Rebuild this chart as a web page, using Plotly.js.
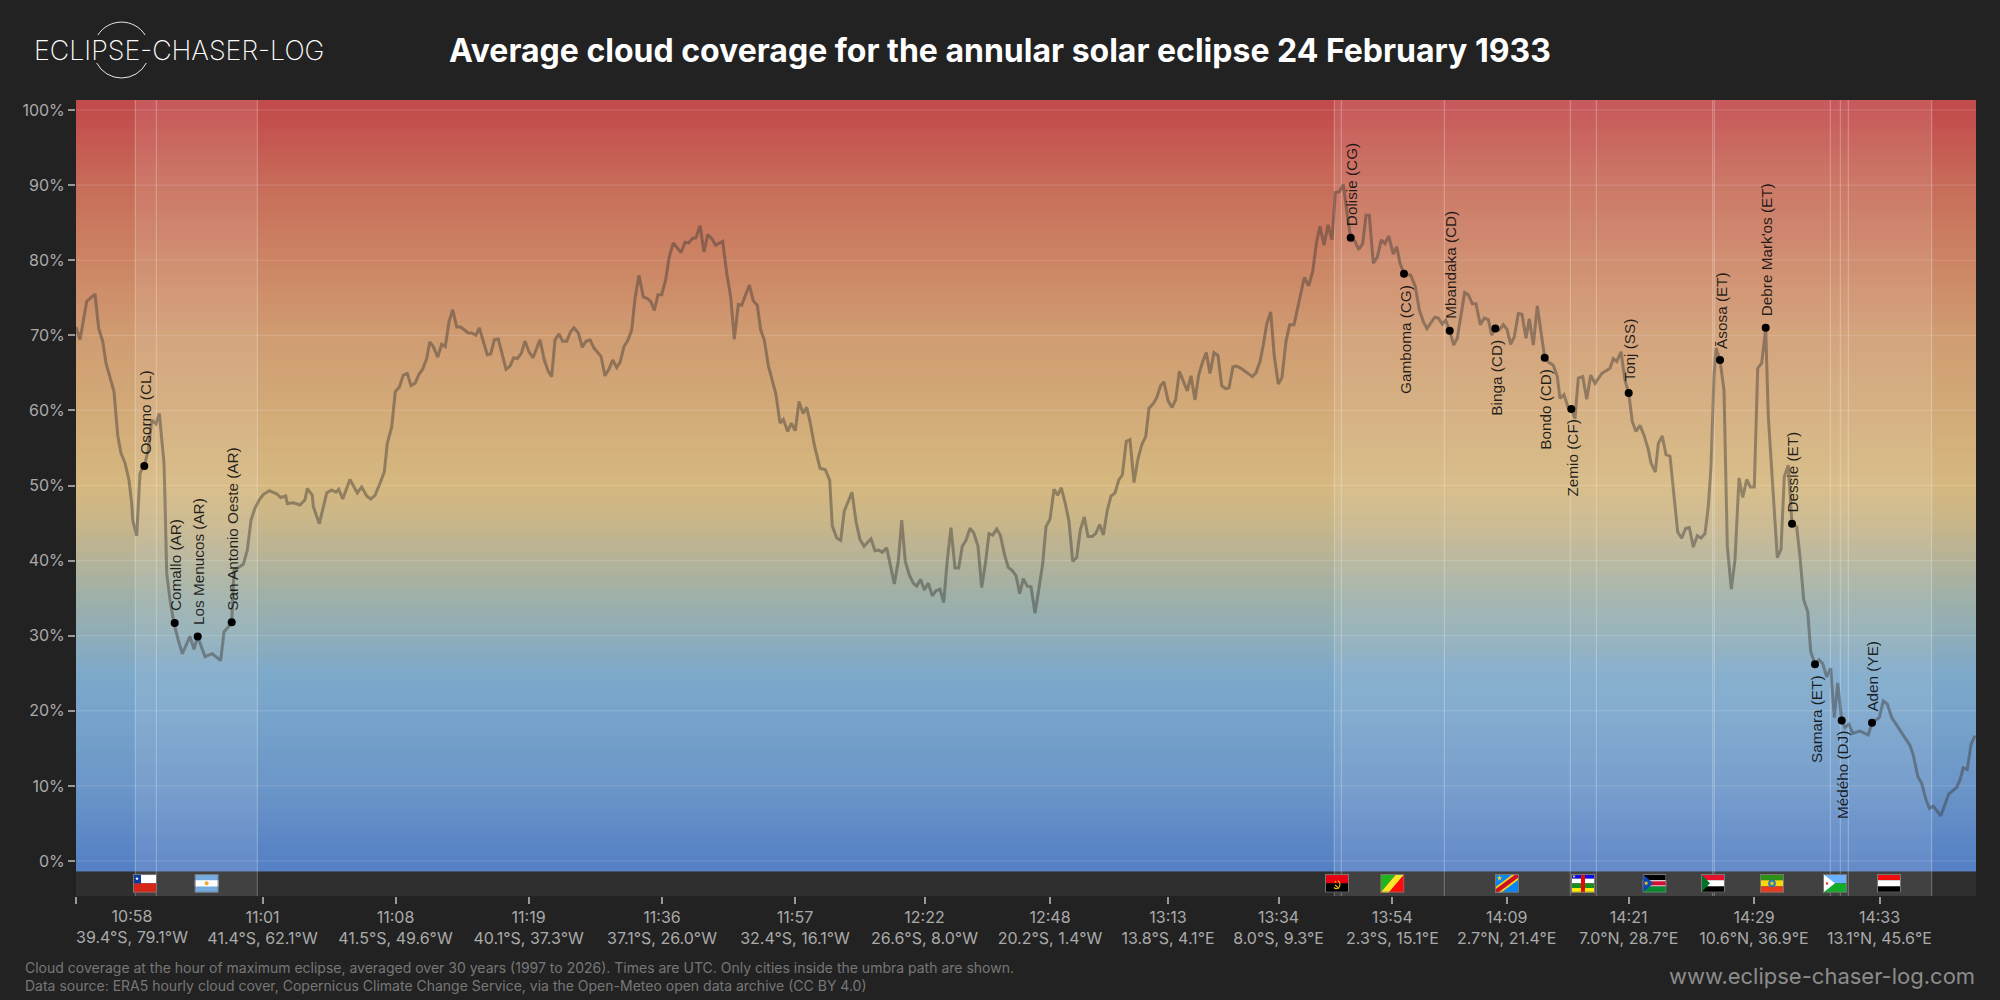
<!DOCTYPE html>
<html><head><meta charset="utf-8">
<script src="https://cdn.plot.ly/plotly-3.0.1.min.js"></script>
<style>html,body{margin:0;padding:0;background:#222}#c{width:2000px;height:1000px}</style>
</head><body><div id="c"></div>
<script>
// ---------- data ----------
const pathPos = [0,4,10.7,19,22.7,26.7,30,38,41.7,45,49,53,55.7,56.7,60.7,62.3,64,69,72.3,75.7,80,83.3,86.3,88,89,90.7,94,98,102.3,106.3,114,118,121.7,129,136.3,144.7,148,155.7,158,167.3,171.3,175,179,183.3,187.3,193.3,200.7,204.7,209.7,211.3,217.3,224,229,231.3,236.3,237.3,243.3,249,250.7,255.7,260,262.7,266.7,274,281.3,285.7,290.7,294.7,299,304,308.3,311.3,315.7,319.3,323.3,327.3,331.3,335,339,343,346.7,350.7,353.7,357.3,361.7,365.7,369.3,373,376.7,380.7,384.7,392.3,395.7,400,403.3,411.3,414.7,418.3,422.3,430,434,437.7,441.3,445.3,449,453,457,464,468.3,472.3,475.7,479,483,486.7,490.7,494.7,498,502.3,506.3,510,514,518,525,529,533,536.7,540.7,544,548,551.7,555.7,559,563,567.3,571.3,574.7,578.3,582,585.7,589.7,593.3,597.3,605,609,612.7,616.3,620,624,628,631.7,635.7,639.7,646.7,650.7,654.7,658.3,662.3,665.7,673.3,677.3,681.3,684.7,688.3,692.3,700,704,707.3,711.7,715.3,719.3,723,727,730.7,734.3,738.3,744,749.3,753.7,756.3,760.7,764.7,768.3,776,780,784,788,795,799,802.7,806.3,810.7,818.3,822.3,825.7,829.3,833.3,837.3,840.7,844.7,848.3,852.3,856.3,860,864,867.7,871.3,875,879,882.7,886.3,890,894,897.7,902,905.7,909.7,913,916.7,920.7,924.3,928.7,932.3,936,940,943.7,947.3,951.3,955,959,962.7,966.7,970,974,978,981.7,985.3,989.3,993,996.7,1000.7,1004.3,1008.3,1012,1016,1019.7,1023.7,1027.3,1031.3,1035,1039,1042.7,1046.3,1050.3,1054,1058,1061.7,1065.7,1069.7,1073,1077.3,1080.7,1084.7,1088,1092,1096,1099.7,1103.3,1111.3,1115,1119,1122.7,1126.7,1130.3,1134,1138,1142,1145.7,1149.7,1153,1157,1160.7,1165,1169,1176.3,1180,1184,1187.3,1190.7,1194.7,1198.3,1202.3,1206,1210,1213.7,1218,1221.7,1228.3,1232.7,1236.7,1240.7,1244,1248,1252,1256,1259.3,1263.3,1267.3,1271.3,1274.7,1279,1282.7,1286.7,1290,1293.3,1297.3,1301.3,1305.3,1309,1312.7,1317.3,1320.7,1324,1328,1334.7,1339.3,1343.3,1347.3,1351,1354.7,1358.7,1362.3,1366.3,1369.7,1373.7,1377.7,1381.3,1385,1388.7,1392.3,1396.3,1400,1404.3,1408.3,1412.3,1415.7,1419.3,1423.3,1427.3,1431,1434.7,1438.3,1442.3,1446,1450,1453.3,1457.3,1461.3,1468.7,1472.7,1477.3,1481.3,1484,1488,1492.3,1495.3,1499,1502.3,1506.7,1510.7,1514.7,1519,1525.7,1534,1537.3,1540.7,1545,1549,1552.7,1556.3,1560,1564,1568,1572.3,1575,1579.3,1582.3,1586.3,1590,1594,1598,1601.7,1605.7,1609.7,1613.3,1617.3,1621.3,1625,1629,1632.3,1635,1638,1640,1644,1648,1649.3,1651.3,1655.3,1659,1663,1666.7,1670.7,1674.3,1678.3,1679.3,1681.7,1685.7,1689.7,1692.3,1697.3,1701.3,1705,1708.3,1712.3,1716,1720.7,1724,1727.7,1731.7,1734.7,1739,1743,1746.7,1750.7,1754.7,1758.3,1761.7,1765.7,1769,1773,1776.7,1784,1792.3,1796,1803.3,1807.3,1811.3,1815.7,1825,1834,1837.3,1841.7,1845.7,1849.7,1853.3,1857.3,1864.7,1872.7,1880.7,1884,1887.3,1891.3,1895,1899];
const cloudCover = [71.1,69.4,74.5,75.5,70.9,69.2,66.3,62.5,56.7,54.3,53,50.7,47.6,45.4,43.3,47.6,51.6,53,54.7,58.7,58.2,59.6,55.2,53,48.1,38.3,34.8,31.6,29.4,27.6,29.9,28.2,29.9,27.2,27.6,26.7,30.5,31.7,38.7,39.5,41.4,45.4,47,48.1,48.8,49.3,48.9,48.4,48.6,47.6,47.7,47.4,48.1,49.6,48.7,47.2,44.9,48.1,49,49.4,49.1,49.5,48.2,50.8,49,49.8,48.6,48.2,48.7,50.3,51.8,55.6,57.8,62.5,63.1,64.7,64.9,63.3,63.6,64.8,65.5,66.9,69.1,68.5,67.1,68.8,68.5,71.8,73.4,71.1,71.1,70.3,70.3,70,71,67.4,67.5,69.4,69.5,65.5,65.9,67,66.9,67.6,69.2,67.8,67,69.4,66.7,65.2,64.5,69.4,70.2,69.2,69.2,70.5,71,70.3,68.4,69.2,69.4,68.3,67.2,64.6,65.5,66.7,65.7,66.4,68.5,69.3,70.7,74.9,78,75.1,74.9,74.5,73.3,75.4,75.4,77.4,80.5,82.3,81,82.4,82.3,82.9,83,84.6,81.1,83.4,82.9,82,82.5,78.3,75.1,69.5,74.1,74,76.7,74.6,74,70.7,69.4,66,62.1,58.3,58.8,57.2,58.3,57.3,61.2,59.6,60.4,58.3,55.4,52.3,52.1,50.7,44.6,43,42.7,46.6,49.1,45.2,42.8,41.9,42.9,41.3,41.4,41.1,41.7,36.9,39.9,45.4,39.9,38.1,37,36.6,37.5,36.1,37,35.3,36,36.2,34.4,40.1,44.4,39,39,41.9,42.7,44.3,43.7,41.9,36.4,39.9,43.6,43.4,44.2,43.4,40.7,39.1,38.7,38,35.6,37.6,36.6,36.5,33,36.1,39.6,44.5,45.5,49.5,48.7,49.7,47.6,45.2,39.9,40.4,44.1,45.8,43.2,43.2,43.6,44.8,43.4,46.7,48.6,49,50.7,51.4,55.9,56.1,50.4,53.4,55.4,56.5,60.3,60.9,61.7,63.3,63.8,61.3,60.4,61.4,65.2,62.6,64.6,61.4,64.7,66.5,67.7,64.9,67.7,67.3,63.3,62.9,63,65.8,65.9,65.6,65.2,64.5,65,66.5,68.7,71.5,73.1,67.2,63.5,64.4,69.2,71.4,71.4,73.8,77.7,76.6,78.5,82.5,84.5,82,84.7,82.7,89,89.1,90.1,86,83,82.5,81.4,82.2,86,86,79.6,80.4,82.7,82.2,83.2,80.8,81.8,79.6,78.2,78,76.5,73.4,71.8,70.9,71.6,72.4,72.3,71.5,72,70.6,68.7,69.6,72.7,75.7,75.4,74.2,74.2,71.4,72.3,72.1,70,70.9,70.7,71.4,70.8,68.8,69.8,72.9,72.8,69.6,72.2,68.7,73.9,67,66.4,66,64.5,61.6,62.1,60.3,60.2,58.9,64.3,64.5,61.5,64.7,63.6,64.9,65.6,66.9,66.5,67.8,64,62.3,58.5,57.2,58,56.7,54.8,53,51.8,55.6,56.6,54.1,53.9,49,43.8,43,44.3,44.4,41.8,43.3,43,43.6,47.2,52.5,64.5,68.3,66.7,62.7,54.7,41.9,36.2,40.1,51,48.4,50.8,49.8,49.8,55.6,65.6,66.3,70.9,59.2,49,40.4,41.5,51.2,52.7,44.9,44.5,40.5,34.8,33.2,27.9,26.2,26.8,26.3,24.5,25.7,19.1,23.7,18.7,17.8,18.2,17,17.3,16.8,18.4,19.1,21.3,20.9,19.1,17.2,15.4,14.1,11.3,10.3,8.3,7,7.3,6,8.9,9.8,10.8,12.4,12.2,15.5,16.7];

const cityNames = ["Osorno (CL)","Comallo (AR)","Los Menucos (AR)","San Antonio Oeste (AR)","Dolisie (CG)","Gamboma (CG)","Mbandaka (CD)","Binga (CD)","Bondo (CD)","Zemio (CF)","Tonj (SS)","Āsosa (ET)","Debre Mark'os (ET)","Dessie (ET)","Samara (ET)","Médého (DJ)","Aden (YE)"];
const cityPos = [68.3,98.7,121.7,155.7,1274.7,1328,1373.7,1419.3,1468.7,1495.3,1552.7,1644,1689.7,1716,1739,1765.7,1796];
const cityCover = [52.6,31.7,29.9,31.8,83,78.2,70.6,70.9,67,60.2,62.3,66.7,71,44.9,26.2,18.7,18.4];
const cityLabelUp = [1,1,1,1,1,0,1,0,0,0,1,1,1,1,0,0,1];

const tickPos = [0,186.5,319.5,452.6,586,719,848.5,974,1092,1202.5,1316.4,1430.7,1552.6,1678,1803.5];
const tickTimes = ["10:58","11:01","11:08","11:19","11:36","11:57","12:22","12:48","13:13","13:34","13:54","14:09","14:21","14:29","14:33"];
const tickPlaces = ["39.4°S, 79.1°W","41.4°S, 62.1°W","41.5°S, 49.6°W","40.1°S, 37.3°W","37.1°S, 26.0°W","32.4°S, 16.1°W","26.6°S, 8.0°W","20.2°S, 1.4°W","13.8°S, 4.1°E","8.0°S, 9.3°E","2.3°S, 15.1°E","2.7°N, 21.4°E","7.0°N, 28.7°E","10.6°N, 36.9°E","13.1°N, 45.6°E"];

const borderPos = [59.3,80.3,181.3,1258.3,1265.3,1368.3,1494.3,1520.3,1636.7,1638.3,1754.3,1764.3,1772.3,1855.7];
const bandStart = [59.3,1258.3];
const bandEnd = [181.3,1855.7];

const flagNames = ["CL","AR","AO","CG","CD","CF","SS","SD","ET","DJ","YE"];
const flagPos = [57,118.6,1249,1304.4,1419,1495,1566.4,1625,1684,1747,1801];

const gradientStops = [0,10,20,25,30,35,40,45,50,60,70,80,90,100];
const gradientColors = ["#5681c4","#6b96c8","#78a4cb","#7da9ca","#8fadb8","#9db0a9","#b4b298","#c8b68a","#d6b880","#d2aa78","#d09c72","#cc8464","#c76c59","#c24b4c"];

const yTicks = [0,10,20,30,40,50,60,70,80,90,100];

// ---------- flags ----------
const S = '<polygon points="0,-1 .22,-.31 .95,-.31 .36,.12 .59,.81 0,.38 -.59,.81 -.36,.12 -.95,-.31 -.22,-.31" ';
function star(x,y,r,c){return `<g transform="translate(${x} ${y}) scale(${r})">${S}fill="${c}"/></g>`;}
const flagBodies = {
  CL:`<rect width="24" height="9" fill="#fff"/><rect y="9" width="24" height="9" fill="#d72518"/><rect width="8" height="9" fill="#0a3a9c"/>${star(4,4.5,2,'#fff')}`,
  AR:`<rect width="24" height="18" fill="#74acdf"/><rect y="6" width="24" height="6" fill="#fff"/><circle cx="12" cy="9" r="2" fill="#f0a92c"/>`,
  AO:`<rect width="24" height="9" fill="#e60012"/><rect y="9" width="24" height="9" fill="#000"/><path d="M9 13 C11 15 15 14 15 10 C15 8 14 7 13 6.5 M10 10.5 L14 14" fill="none" stroke="#f5c400" stroke-width="1.1"/>${star(10.5,7.5,1.3,'#f5c400')}`,
  CG:`<rect width="24" height="18" fill="#ff0a0a"/><polygon points="0,0 16,0 0,18" fill="#1fb51f"/><polygon points="16,0 24,0 8,18 0,18" fill="#f7e82a"/>`,
  CD:`<rect width="24" height="18" fill="#0a85f2"/><polygon points="0,18 0,13 18,0 24,0 24,5 6,18" fill="#f7d618"/><polygon points="0,18 0,15 21,0 24,0 24,3 3,18" fill="#ce1021"/>${star(4.5,4,3,'#f7d618')}`,
  CF:`<rect width="24" height="4.5" fill="#0a0aee"/><rect y="4.5" width="24" height="4.5" fill="#fff"/><rect y="9" width="24" height="4.5" fill="#1a8f1a"/><rect y="13.5" width="24" height="4.5" fill="#ffee00"/><rect x="10" width="4" height="18" fill="#e00a0a"/>${star(3,2.3,1.8,'#ffee00')}`,
  SS:`<rect width="24" height="6" fill="#000"/><rect y="6" width="24" height="6" fill="#fff"/><rect y="7" width="24" height="4" fill="#d21034"/><rect y="12" width="24" height="6" fill="#078930"/><polygon points="0,0 11,9 0,18" fill="#0f47af"/>${star(3.8,9,2.4,'#fcdd09')}`,
  SD:`<rect width="24" height="6" fill="#e8112d"/><rect y="6" width="24" height="6" fill="#fff"/><rect y="12" width="24" height="6" fill="#000"/><polygon points="0,0 9,9 0,18" fill="#007229"/>`,
  ET:`<rect width="24" height="6" fill="#2c9312"/><rect y="6" width="24" height="6" fill="#f5d90f"/><rect y="12" width="24" height="6" fill="#e83a1c"/><circle cx="12" cy="9" r="3.8" fill="#2a73b8"/>${star(12,9,3,'#f5d90f')}`,
  DJ:`<rect width="24" height="9" fill="#6ab2ff"/><rect y="9" width="24" height="9" fill="#12ad2b"/><polygon points="0,0 12,9 0,18" fill="#fff"/>${star(4,9,2,'#d7141a')}`,
  YE:`<rect width="24" height="6" fill="#f00d0d"/><rect y="6" width="24" height="6" fill="#fff"/><rect y="12" width="24" height="6" fill="#000"/>`
};
function svgUri(w,h,body){return 'data:image/svg+xml;utf8,'+encodeURIComponent(`<svg xmlns="http://www.w3.org/2000/svg" width="${w*4}" height="${h*4}" viewBox="0 0 ${w} ${h}">${body}</svg>`);}
function flagUri(n){return svgUri(24,18,flagBodies[n]+'<rect x=".5" y=".5" width="23" height="17" fill="none" stroke="#777" stroke-width="1"/>');}

// ---------- layout helpers ----------
const W=2000,H=1000,L=76,R=24,T=100,B=104;
const yMin=-4.66,yMax=101.33,gradBottom=-1.33,xMax=1900;
const px=v=>(v-L)/(W-L-R), py=v=>(H-B-v)/(H-T-B);

// background gradient rows
const gradY=[],gradZ=[];
for(let y=gradBottom+0.25;y<yMax+0.5;y+=0.5){const v=Math.max(0,Math.min(100,y));gradY.push(y);gradZ.push([v,v]);}
const colorscale=gradientStops.map((s,i)=>[s/100,gradientColors[i]]);

// helper traces
const bandX=[],bandY=[];
bandStart.forEach((s,i)=>{bandX.push(s,s,bandEnd[i],bandEnd[i],s,null);bandY.push(yMin,yMax,yMax,yMin,yMin,null);});
const gridX=[],gridY=[];
yTicks.forEach(t=>{gridX.push(0,xMax,null);gridY.push(t,t,null);});
const borderX=[],borderY=[];
borderPos.forEach(b=>{borderX.push(b,b,null);borderY.push(yMin,yMax,null);});

const traces=[
 {type:'heatmap',x:[0,xMax],y:gradY,z:gradZ,zmin:0,zmax:100,colorscale:colorscale,showscale:false,hoverinfo:'skip',zsmooth:false},
 {type:'scatter',mode:'lines',x:bandX,y:bandY,fill:'toself',fillcolor:'rgba(255,255,255,0.09)',line:{width:0},hoverinfo:'skip',showlegend:false},
 {type:'scatter',mode:'lines',x:gridX,y:gridY,line:{color:'rgba(255,255,255,0.16)',width:1},hoverinfo:'skip',showlegend:false},
 {type:'scatter',mode:'lines',x:borderX,y:borderY,line:{color:'rgba(255,255,255,0.3)',width:1},hoverinfo:'skip',showlegend:false},
 {type:'scatter',mode:'lines',x:pathPos,y:cloudCover,line:{color:'rgba(62,58,54,0.45)',width:3},showlegend:false},
 {type:'scatter',mode:'markers',x:cityPos,y:cityCover,marker:{color:'#000',size:8},showlegend:false,text:cityNames,hoverinfo:'text'}
];

const annotations=cityNames.map((n,i)=>({
  xref:'x',yref:'y',x:cityPos[i],y:cityCover[i],text:n,textangle:-90,showarrow:false,
  font:{family:'Liberation Sans',size:15.3,color:'rgba(10,10,10,0.88)'},
  xanchor:'center',yanchor:cityLabelUp[i]?'bottom':'top',
  xshift:0.8,yshift:cityLabelUp[i]?10.5:-10,borderpad:0
}));
function pageText(text,x,y,xanchor,font){return {xref:'paper',yref:'paper',x:px(x),y:py(y),text,showarrow:false,xanchor,yanchor:'middle',align:xanchor,font,borderpad:0};}
annotations.push(pageText('Average cloud coverage for the annular solar eclipse 24 February 1933',448,50,'left',{family:'Inter',size:32,color:'#ffffff',weight:700}));
annotations.push(pageText('ECLIPSE-CHASER-LOG',33,50,'left',{family:'Inter',size:26.8,color:'#ffffff',weight:200}));
annotations.push(pageText('Cloud coverage at the hour of maximum eclipse, averaged over 30 years (1997 to 2026). Times are UTC. Only cities inside the umbra path are shown.',24,967,'left',{family:'Inter',size:14,color:'#777777'}));
annotations.push(pageText('Data source: ERA5 hourly cloud cover, Copernicus Climate Change Service, via the Open-Meteo open data archive (CC BY 4.0)',24,985,'left',{family:'Inter',size:14,color:'#777777'}));
annotations.push(pageText('www.eclipse-chaser-log.com',1976,976,'right',{family:'Inter',size:22,color:'#8c8c8c'}));
annotations.push({xref:'x',yref:'paper',x:56,y:0,yshift:-9,xanchor:'center',yanchor:'top',showarrow:false,borderpad:0,
  text:tickTimes[0]+'<br>'+tickPlaces[0],font:{family:'Inter',size:16,color:'#aaaaaa'}});

const images=flagNames.map((n,i)=>({source:flagUri(n),xref:'x',yref:'y',x:flagPos[i],y:-1.73,sizex:24,sizey:2.49,xanchor:'left',yanchor:'top',sizing:'stretch',layer:'above'}));
images.push({source:svgUri(70,70,'<path d="M11.4 20 A28 28 0 0 1 58.6 20 M10.2 48 A28 28 0 0 0 59.8 48" fill="none" stroke="#fff" stroke-width=".9"/>'),
  xref:'paper',yref:'paper',x:px(86.5),y:py(15),sizex:70/(W-L-R),sizey:70/(H-T-B),xanchor:'left',yanchor:'top',sizing:'stretch',layer:'above'});

const layout={
  width:W,height:H,margin:{l:L,r:R,t:T,b:B,pad:0},
  paper_bgcolor:'#222222',plot_bgcolor:'#2f2f2f',showlegend:false,
  font:{family:'Inter',color:'#aaaaaa'},
  xaxis:{range:[0,xMax],tickmode:'array',tickvals:tickPos,
    ticktext:tickTimes.map((t,i)=>i===0?'':t+'<br>'+tickPlaces[i]),
    ticks:'outside',ticklen:7,tickwidth:2,tickcolor:'#999999',showgrid:false,zeroline:false,showline:false,
    tickfont:{family:'Inter',size:16,color:'#aaaaaa'},fixedrange:true},
  yaxis:{range:[yMin,yMax],tickmode:'array',tickvals:yTicks,ticktext:yTicks.map(t=>t+'%'),
    ticks:'outside',ticklen:7,tickwidth:2,tickcolor:'#999999',showgrid:false,zeroline:false,showline:false,
    tickfont:{family:'Inter',size:16,color:'#aaaaaa'},fixedrange:true},
  annotations:annotations,images:images
};
Plotly.newPlot('c',traces,layout,{displayModeBar:false,responsive:false});
</script></body></html>
